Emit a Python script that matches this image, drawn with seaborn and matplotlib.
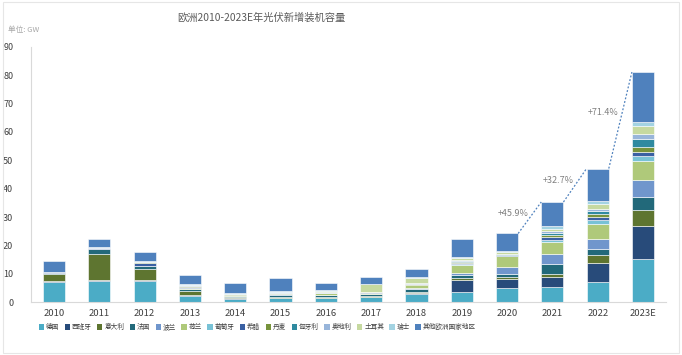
import numpy as np
import pandas as pd
import seaborn as sns
import matplotlib.pyplot as plt
from matplotlib.patches import Patch, Rectangle

years = ["2010", "2011", "2012", "2013", "2014", "2015", "2016",
         "2017", "2018", "2019", "2020", "2021", "2022", "2023E"]

countries = ["德国", "西班牙", "意大利", "法国", "波兰", "荷兰", "葡萄牙",
             "希腊", "丹麦", "匈牙利", "奥地利", "土耳其", "瑞士", "其他欧洲国家地区"]

colors = ["#4bacc6", "#284b7a", "#5e7530", "#22697a", "#7096cc", "#afc97a", "#78c2d6",
          "#3a60a3", "#77933c", "#2f8aa0", "#98b5da", "#c6d9a0", "#a3d3e2", "#4f81bd"]

# GW per year
germany  = [7.0, 7.4, 7.6, 2.3, 1.2, 1.4, 1.4, 1.7, 3.0, 3.7, 4.8, 5.5, 7.0, 15.2]
spain    = [0.3, 0.4, 0.3, 0.15, 0.1, 0.05, 0.05, 0.1, 0.25, 4.2, 3.4, 3.5, 6.8, 11.5]
italy    = [2.7, 9.3, 3.6, 1.5, 0.4, 0.3, 0.35, 0.4, 0.4, 0.7, 0.7, 1.0, 2.7, 5.9]
france   = [0.3, 1.7, 1.1, 0.7, 0.5, 0.9, 0.6, 0.6, 0.9, 0.9, 1.1, 3.6, 2.4, 4.3]
poland   = [0.0, 0.0, 0.0, 0.0, 0.0, 0.05, 0.1, 0.1, 0.25, 0.8, 2.4, 3.5, 3.5, 6.3]
nether   = [0.05, 0.05, 0.2, 0.3, 0.3, 0.4, 0.6, 0.4, 1.3, 2.7, 3.7, 4.1, 5.3, 6.6]
portugal = [0.05, 0.05, 0.1, 0.05, 0.1, 0.05, 0.05, 0.05, 0.05, 0.3, 0.2, 0.8, 1.2, 1.7]
greece   = [0.1, 0.3, 0.9, 0.4, 0.05, 0.0, 0.0, 0.05, 0.05, 0.4, 0.2, 0.8, 1.1, 1.6]
denmark  = [0.0, 0.0, 0.2, 0.4, 0.05, 0.2, 0.1, 0.05, 0.1, 0.3, 0.2, 0.8, 1.0, 1.5]
hungary  = [0.0, 0.0, 0.0, 0.0, 0.0, 0.0, 0.1, 0.1, 0.2, 0.6, 0.2, 0.9, 1.0, 2.8]
austria  = [0.05, 0.1, 0.2, 0.3, 0.15, 0.15, 0.15, 0.15, 0.15, 0.3, 0.2, 0.6, 1.0, 1.9]
turkey   = [0.0, 0.0, 0.0, 0.0, 0.05, 0.1, 0.4, 2.6, 1.9, 0.6, 0.5, 0.8, 1.5, 2.9]
swiss    = [0.1, 0.1, 0.2, 0.3, 0.3, 0.3, 0.3, 0.25, 0.3, 0.4, 0.4, 0.8, 1.1, 1.4]
others   = [4.0, 2.8, 3.4, 3.1, 3.6, 4.7, 2.7, 2.3, 2.8, 6.5, 6.2, 8.6, 11.5, 17.5]

growth_labels = ["+45.9%", "+32.7%", "+71.4%"]
growth_from = [10, 11, 12]

series = [germany, spain, italy, france, poland, nether, portugal,
          greece, denmark, hungary, austria, turkey, swiss, others]

sns.set_style("white")
plt.rcParams["font.family"] = ["Noto Sans CJK SC", "DejaVu Sans"]

fig = plt.figure(figsize=(6.82, 3.55), dpi=100)
ax = fig.add_axes([0.046, 0.149, 0.930, 0.719])

bw = 0.49
bottom = np.zeros(len(years))
for name, vals, col in zip(countries, series, colors):
    sns.barplot(x=years, y=vals, bottom=bottom, color=col, saturation=1,
                width=bw, edgecolor="white", linewidth=0.4, ax=ax)
    bottom = bottom + np.array(vals)
totals = bottom

# dotted connectors with growth labels
for lab, i in zip(growth_labels, growth_from):
    x0, y0 = i + bw / 2, totals[i]
    x1, y1 = i + 1 - bw / 2, totals[i + 1]
    ax.plot([x0, x1], [y0, y1], ls=(0, (1.5, 1.5)), color="#4f81bd", lw=0.9)
    f = 0.55
    ax.annotate(lab, (x0 + f * (x1 - x0), y0 + f * (y1 - y0)),
                xytext=(-2, 2), textcoords="offset points",
                ha="right", va="center", fontsize=6.5, color="#808080")

ax.set_xlim(-0.5, len(years) - 0.5)
ax.set_ylim(0, 90)
ax.set_yticks(range(0, 91, 10))
ax.set_xlabel("")
ax.set_ylabel("")
for s in ["top", "right"]:
    ax.spines[s].set_visible(False)
for s in ["left", "bottom"]:
    ax.spines[s].set_color("#d9d9d9")
    ax.spines[s].set_linewidth(0.8)
ax.set_xticks(np.arange(len(years) - 1) + 0.5, minor=True)
ax.tick_params(axis="x", which="major", length=0, pad=5, labelsize=6.8, labelcolor="#404040")
ax.tick_params(axis="x", which="minor", length=3.5, color="#d9d9d9", width=0.8)
ax.tick_params(axis="y", length=2, color="#d9d9d9", pad=11, labelsize=6.5, labelcolor="#404040")

fig.text(0.383, 0.95, "欧洲2010-2023E年光伏新增装机容量", ha="center", va="center",
         fontsize=7.4, color="#595959")
fig.text(0.012, 0.915, "单位: GW", ha="left", va="center", fontsize=5.5, color="#a6a6a6")

handles = [Patch(facecolor=c, edgecolor="none") for c in colors]
fig.legend(handles, countries, loc="center", bbox_to_anchor=(0.377, 0.078), ncol=14,
           frameon=False, fontsize=4.8, handlelength=0.8, handleheight=0.8,
           handletextpad=0.3, columnspacing=0.8, labelcolor="#404040")

fig.patches.append(Rectangle((0.004, 0.006), 0.992, 0.988, transform=fig.transFigure,
                             fill=False, edgecolor="#e6e6e6", linewidth=0.8))

fig.savefig("out.png", dpi=100)
